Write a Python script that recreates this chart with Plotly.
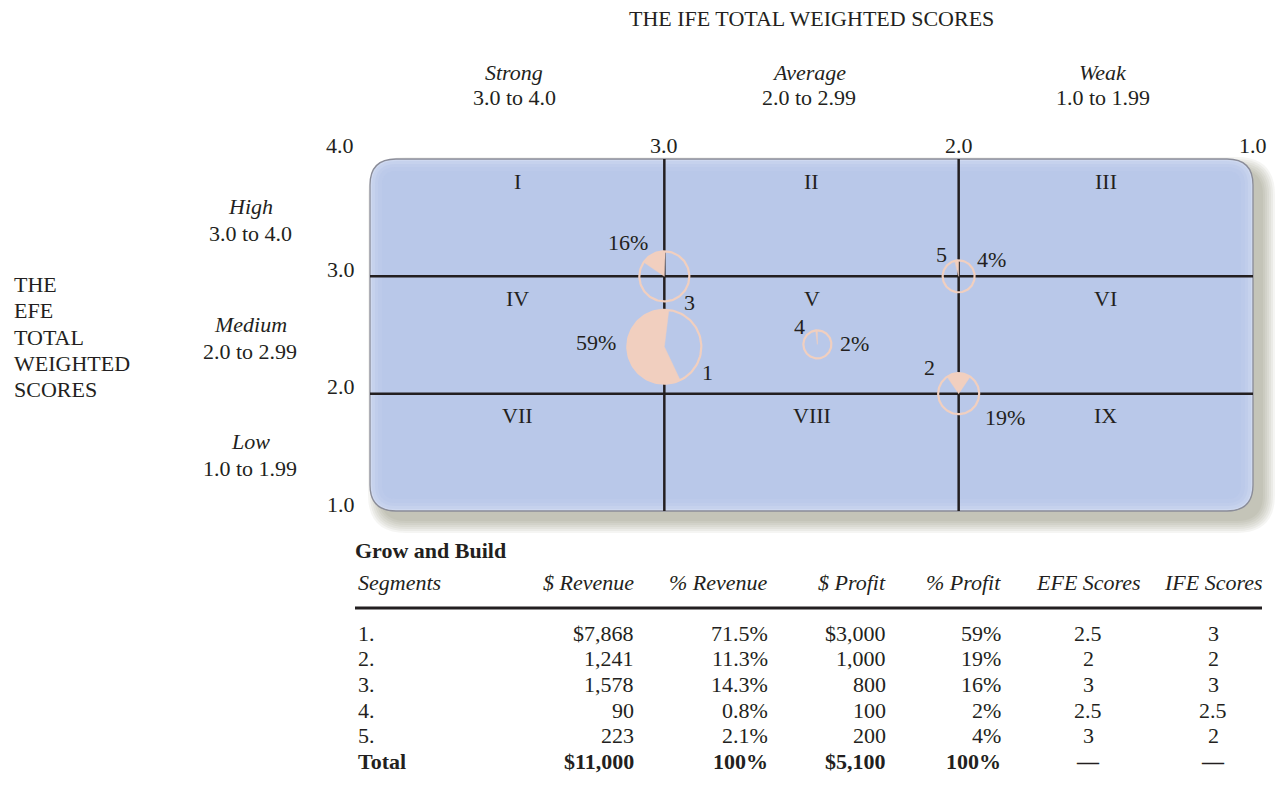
import numpy as np
import plotly.graph_objects as go

# ---------------- data ----------------
segments = ["1.", "2.", "3.", "4.", "5."]
revenue_txt = ["$7,868", "1,241", "1,578", "90", "223"]
revenue_pct_txt = ["71.5%", "11.3%", "14.3%", "0.8%", "2.1%"]
profit_txt = ["$3,000", "1,000", "800", "100", "200"]
profit_pct = [59, 19, 16, 2, 4]
efe_scores_txt = ["2.5", "2", "3", "2.5", "3"]
ife_scores_txt = ["3", "2", "3", "2.5", "2"]
totals = ["Total", "$11,000", "100%", "$5,100", "100%", "\u2014", "\u2014"]
seg_numbers = ["1", "2", "3", "4", "5"]

# circle centres as drawn in the chart (IFE on x, EFE on y)
ife_pos = [3.0, 2.0, 3.0, 2.48, 2.0]
efe_pos = [2.40, 2.0, 3.0, 2.42, 3.0]

col_headers = ["Segments", "$ Revenue", "% Revenue", "$ Profit", "% Profit", "EFE Scores", "IFE Scores"]
ife_words = ["Strong", "Average", "Weak"]
ife_ranges = ["3.0 to 4.0", "2.0 to 2.99", "1.0 to 1.99"]
efe_words = ["High", "Medium", "Low"]
efe_ranges = ["3.0 to 4.0", "2.0 to 2.99", "1.0 to 1.99"]
efe_title_lines = ["THE", "EFE", "TOTAL", "WEIGHTED", "SCORES"]
cell_labels = [["I", "II", "III"], ["IV", "V", "VI"], ["VII", "VIII", "IX"]]
cell_centres = [3.5, 2.5, 1.5]
tick_vals = [4.0, 3.0, 2.0, 1.0]
tick_txt = ["4.0", "3.0", "2.0", "1.0"]

# ---------------- geometry / style ----------------
W, H = 1278, 789
X0, X1, Y0, Y1 = 370, 1253, 159, 511      # pixel positions of x=4, x=1, y=4, y=1
SX = (X1 - X0) / 3.0
SY = (Y1 - Y0) / 3.0
PL, PR, PT, PB = 330, 1278, 140, 545      # plot area in pixels

def X(v): return X0 + (4 - v) * SX
def Y(v): return Y0 + (4 - v) * SY
def dx(px): return 4 - (px - X0) / SX
def dy(py): return 4 - (py - Y0) / SY
def ppx(px): return (px - PL) / (PR - PL)
def ppy(py): return (PB - py) / (PB - PT)

FONT = "Liberation Serif, Times New Roman, serif"
TXT = "#231f20"
FS = 22
PEACH = "#f1cfbf"
BLUE = "#b9c8e9"

radii = [37, 20.5, 25, 14, 16]
start_deg = [7, 34, 2, 0, 0]
opaque = [True, False, False, False, False]
num_off = [(43, -26), (-29, 26), (25, -26), (-18, 18), (-17, 22)]
pct_off = [(-46, 4, "right"), (46, -24, "center"), (-36, 34, "center"), (37, 1, "center"), (33, 17, "center")]

def rrect(l, t, r, b, rad):
    p = [
        f"M {dx(l+rad)},{dy(t)}", f"L {dx(r-rad)},{dy(t)}",
        f"Q {dx(r)},{dy(t)} {dx(r)},{dy(t+rad)}", f"L {dx(r)},{dy(b-rad)}",
        f"Q {dx(r)},{dy(b)} {dx(r-rad)},{dy(b)}", f"L {dx(l+rad)},{dy(b)}",
        f"Q {dx(l)},{dy(b)} {dx(l)},{dy(b-rad)}", f"L {dx(l)},{dy(t+rad)}",
        f"Q {dx(l)},{dy(t)} {dx(l+rad)},{dy(t)}", "Z",
    ]
    return " ".join(p)

shapes = []
# shadow
for e in range(12, -1, -2):
    shapes.append(dict(type="path", xref="x", yref="y", layer="below",
                       path=rrect(X0 + 10 - e, Y0 + 10 - e, X1 + 10 + e, Y1 + 10 + e, 26 + e),
                       fillcolor="rgb(110,110,80)", opacity=0.07, line=dict(width=0)))
# panel with soft inner glow
shapes.append(dict(type="path", xref="x", yref="y", layer="below",
                   path=rrect(X0, Y0, X1, Y1, 26), fillcolor="#cfd9f0", line=dict(width=0)))
for ins in [2, 5, 8, 12]:
    shapes.append(dict(type="path", xref="x", yref="y", layer="below",
                       path=rrect(X0 + ins, Y0 + ins, X1 - ins, Y1 - ins, max(26 - ins, 6)),
                       fillcolor="#b3c4e7", opacity=0.3, line=dict(width=0)))
shapes.append(dict(type="path", xref="x", yref="y", layer="below",
                   path=rrect(X0, Y0, X1, Y1, 26), fillcolor="rgba(0,0,0,0)",
                   line=dict(color="#8a8c98", width=1.3)))
# grid lines
for v in [3.0, 2.0]:
    shapes.append(dict(type="line", xref="x", yref="y", layer="below",
                       x0=v, x1=v, y0=1, y1=4, line=dict(color=TXT, width=2.5)))
    shapes.append(dict(type="line", xref="x", yref="y", layer="below",
                       x0=4, x1=1, y0=v, y1=v, line=dict(color=TXT, width=2.5)))
# table rule
shapes.append(dict(type="line", xref="paper", yref="paper",
                   x0=ppx(355), x1=ppx(1262), y0=ppy(608), y1=ppy(608),
                   line=dict(color=TXT, width=3)))

fig = go.Figure()

for i in range(len(segments)):
    cxp, cyp, r = X(ife_pos[i]), Y(efe_pos[i]), radii[i]
    a = np.linspace(0, 2 * np.pi, 121)
    cx_ = [dx(cxp + r * np.sin(t)) for t in a]
    cy_ = [dy(cyp - r * np.cos(t)) for t in a]
    if opaque[i]:
        fig.add_trace(go.Scatter(x=cx_, y=cy_, mode="lines", fill="toself", fillcolor=BLUE,
                                 line=dict(width=0), hoverinfo="skip", showlegend=False))
    s = np.deg2rad(start_deg[i])
    wa = np.linspace(s, s - profit_pct[i] / 100 * 2 * np.pi, 80)
    wx = [dx(cxp)] + [dx(cxp + r * np.sin(t)) for t in wa] + [dx(cxp)]
    wy = [dy(cyp)] + [dy(cyp - r * np.cos(t)) for t in wa] + [dy(cyp)]
    fig.add_trace(go.Scatter(x=wx, y=wy, mode="lines", fill="toself", fillcolor=PEACH,
                             line=dict(width=0.5, color=PEACH), hoverinfo="skip", showlegend=False))
    fig.add_trace(go.Scatter(x=cx_, y=cy_, mode="lines", line=dict(color=PEACH, width=2.2),
                             hoverinfo="skip", showlegend=False))

ann = []
def T(text, px, py, xa="center", size=FS):
    ann.append(dict(text=text, x=ppx(px), y=ppy(py), xref="paper", yref="paper",
                    xanchor=xa, yanchor="middle", align=xa if xa != "center" else "center",
                    showarrow=False, font=dict(family=FONT, size=size, color=TXT)))

# circle labels
for i in range(len(segments)):
    ox, oy = num_off[i]
    ann.append(dict(text=seg_numbers[i], x=ife_pos[i], y=efe_pos[i], xref="x", yref="y",
                    xshift=ox, yshift=oy, showarrow=False,
                    font=dict(family=FONT, size=FS, color=TXT)))
    px_, py_, xa = pct_off[i]
    ann.append(dict(text=f"{profit_pct[i]}%", x=ife_pos[i], y=efe_pos[i], xref="x", yref="y",
                    xshift=px_, yshift=py_, xanchor=xa, showarrow=False,
                    font=dict(family=FONT, size=FS, color=TXT)))

# cell numerals
for r_, row in enumerate(cell_labels):
    for c_, lab in enumerate(row):
        T(lab, X(cell_centres[c_]), Y(4 - r_) + 22)

# title and IFE ranges
T("THE IFE TOTAL WEIGHTED SCORES", X(2.5), 18)
for c_ in range(3):
    T(f"<i>{ife_words[c_]}</i>", X(cell_centres[c_]) - 3, 72)
    T(ife_ranges[c_], X(cell_centres[c_]) - 3, 97)

# tick labels
T(tick_txt[0], X(tick_vals[0]) - 30, 145)
for k in range(1, 4):
    T(tick_txt[k], X(tick_vals[k]), 145)
    T(tick_txt[k], 341, Y(tick_vals[k]) - 7)

# EFE side labels
for r_ in range(3):
    T(f"<i>{efe_words[r_]}</i>", 250, Y(cell_centres[r_]) - 11)
    T(efe_ranges[r_], 250, Y(cell_centres[r_]) + 16)
for k, line in enumerate(efe_title_lines):
    T(line, 12, Y(2.5) + 2 + (k - 2) * 26.3, xa="left")

# table
T("<b>Grow and Build</b>", 353, 550, xa="left")
col_x = [356, 636, 770, 888, 1003, 1088, 1213]
col_a = ["left", "right", "right", "right", "right", "center", "center"]
for j, h in enumerate(col_headers):
    T(f"<i>{h}</i>", col_x[j], 582, xa=col_a[j])
row_y0, row_dy = 633, 25.7
cols = [segments, revenue_txt, revenue_pct_txt, profit_txt,
        [f"{p}%" for p in profit_pct], efe_scores_txt, ife_scores_txt]
for i in range(len(segments)):
    for j in range(7):
        T(cols[j][i], col_x[j], row_y0 + i * row_dy, xa=col_a[j])
for j in range(7):
    T(f"<b>{totals[j]}</b>", col_x[j], row_y0 + 5 * row_dy, xa=col_a[j])

fig.update_layout(
    width=W, height=H,
    margin=dict(l=PL, r=W - PR, t=PT, b=H - PB, pad=0),
    paper_bgcolor="white", plot_bgcolor="white",
    xaxis=dict(range=[dx(PL), dx(PR)], visible=False, fixedrange=True),
    yaxis=dict(range=[dy(PB), dy(PT)], visible=False, fixedrange=True),
    shapes=shapes, annotations=ann, showlegend=False,
)
fig.write_html("out.html", config={"displayModeBar": False},
               post_script="document.body.style.margin='0px';document.body.style.overflow='hidden';")
